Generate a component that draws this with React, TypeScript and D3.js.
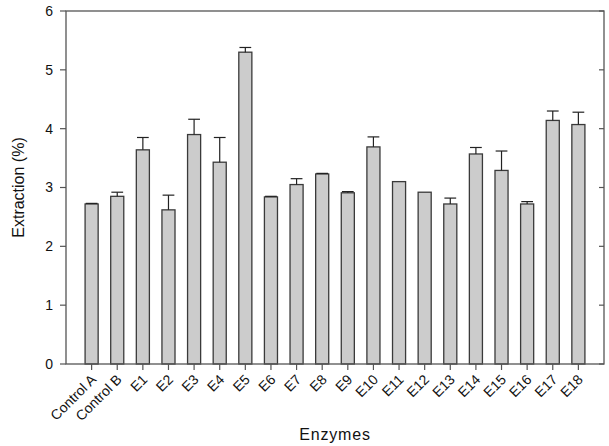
import React from "react";
import * as d3 from "d3";

const categories = ["Control A", "Control B", "E1", "E2", "E3", "E4", "E5", "E6", "E7", "E8", "E9", "E10", "E11", "E12", "E13", "E14", "E15", "E16", "E17", "E18"];
const extraction = [2.72, 2.85, 3.64, 2.62, 3.90, 3.43, 5.30, 2.84, 3.05, 3.23, 2.91, 3.69, 3.10, 2.92, 2.72, 3.57, 3.29, 2.72, 4.14, 4.07];
const errorUp = [0.01, 0.07, 0.21, 0.25, 0.26, 0.42, 0.08, 0.01, 0.10, 0.01, 0.02, 0.17, 0.0, 0.0, 0.10, 0.11, 0.33, 0.04, 0.16, 0.21];
const yTicks = [0, 1, 2, 3, 4, 5, 6];

const W = 609;
const H = 446;
const margin = { top: 11, right: 5, bottom: 82, left: 66 };

export default function App() {
  const x = d3
    .scalePoint<string>()
    .domain(categories)
    .range([margin.left, W - margin.right])
    .padding(1);
  const y = d3.scaleLinear().domain([0, 6]).range([H - margin.bottom, margin.top]);
  const barW = x.step() * 0.51;
  const capW = barW * 0.9;
  const font = "Liberation Sans, Arial, sans-serif";
  const x0 = margin.left;
  const x1 = W - margin.right;
  const y0 = y(0);

  return (
    <div style={{ position: "fixed", left: 0, top: 0 }}>
      <svg width={W} height={H} style={{ display: "block", background: "#fff" }} fontFamily={font}>
        {/* bars */}
        {categories.map((c, i) => {
          const cx = x(c)!;
          const top = y(extraction[i]);
          const eTop = y(extraction[i] + errorUp[i]);
          return (
            <g key={c}>
              <rect x={cx - barW / 2} y={top} width={barW} height={y0 - top} fill="#cccccc" stroke="#3a3a3a" strokeWidth={1.3} />
              {errorUp[i] > 0.005 && (
                <g stroke="#222" strokeWidth={1.2}>
                  <line x1={cx} x2={cx} y1={top} y2={eTop} />
                  <line x1={cx - capW / 2} x2={cx + capW / 2} y1={eTop} y2={eTop} />
                </g>
              )}
            </g>
          );
        })}

        {/* frame */}
        <rect x={x0} y={margin.top} width={x1 - x0} height={y0 - margin.top} fill="none" stroke="#555" strokeWidth={1.3} />

        {/* y ticks */}
        {yTicks.map((t) => (
          <g key={t}>
            <line x1={x0 - 6} x2={x0} y1={y(t)} y2={y(t)} stroke="#555" strokeWidth={1.2} />
            <line x1={x1 - 5} x2={x1} y1={y(t)} y2={y(t)} stroke="#555" strokeWidth={1.2} />
            <text x={x0 - 13} y={y(t)} dy="0.35em" textAnchor="end" fontSize={14} fill="#111">
              {t}
            </text>
          </g>
        ))}

        {/* x ticks */}
        {categories.map((c) => (
          <g key={c} transform={`translate(${x(c)},${y0})`}>
            <line y1={0} y2={6} stroke="#555" strokeWidth={1.2} />
            <text transform="translate(2,13) rotate(-45)" textAnchor="end" dy="0.35em" fontSize={14} fill="#111">
              {c}
            </text>
          </g>
        ))}

        {/* axis titles */}
        <text transform={`translate(24,${(margin.top + y0) / 2}) rotate(-90)`} textAnchor="middle" fontSize={16} fill="#111">
          Extraction (%)
        </text>
        <text x={(x0 + x1) / 2} y={440} textAnchor="middle" fontSize={16} letterSpacing={0.8} fill="#111">
          Enzymes
        </text>
      </svg>
    </div>
  );
}
